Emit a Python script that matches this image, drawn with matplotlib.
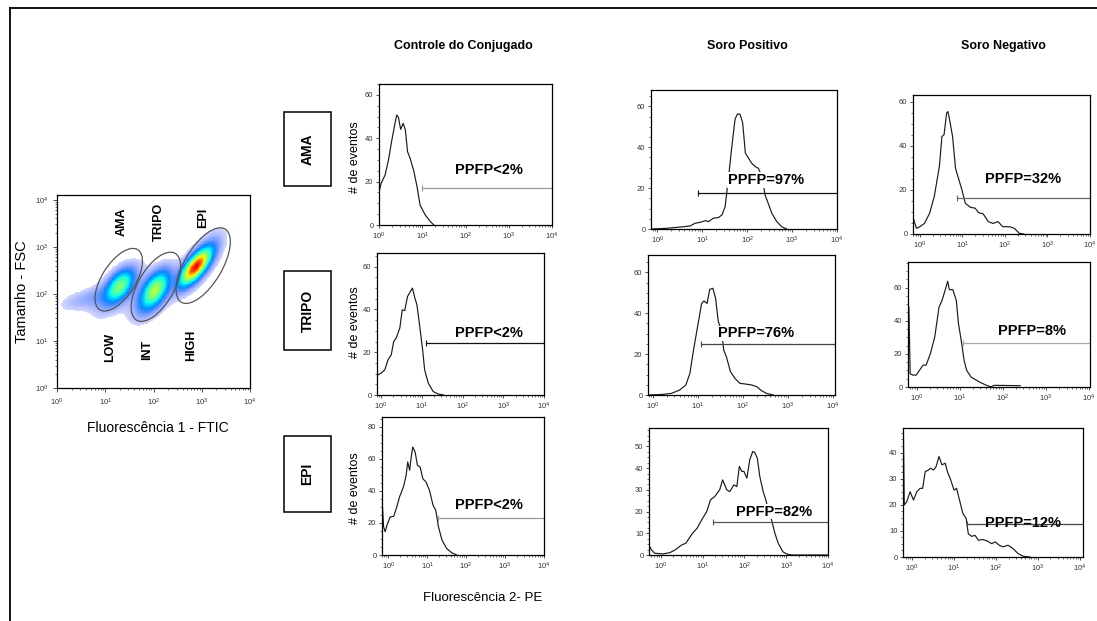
import numpy as np
import matplotlib
matplotlib.use("Agg")
import matplotlib.pyplot as plt
from matplotlib.patches import Ellipse, Rectangle
from matplotlib.lines import Line2D
from matplotlib.ticker import (LogLocator, LogFormatterSciNotation, MultipleLocator,
                               FixedLocator, NullFormatter, FuncFormatter)

# ---------------------------------------------------------------- data
column_titles = ["Controle do Conjugado", "Soro Positivo", "Soro Negativo"]
row_titles = ["AMA", "TRIPO", "EPI"]

# FSC x FL1 populations (log10 units): dense cores plus faint halos
cluster_names = ["AMA", "TRIPO", "EPI", "AMA halo", "TRIPO halo", "EPI halo", "left tail"]
cluster_fl1_log = [1.30, 2.03, 2.88, 1.25, 2.00, 2.95, 0.65]
cluster_fsc_log = [2.17, 2.08, 2.58, 2.10, 2.02, 2.65, 1.90]
cluster_sd_major = [0.22, 0.24, 0.26, 0.40, 0.40, 0.45, 0.40]
cluster_sd_minor = [0.12, 0.12, 0.10, 0.20, 0.20, 0.17, 0.14]
cluster_angle = [55, 60, 52, 50, 55, 55, 15]
cluster_weight = [0.40, 0.48, 1.00, 0.10, 0.12, 0.12, 0.05]

gate_names = ["AMA", "TRIPO", "EPI"]
gate_center_fl1 = [1.28, 2.05, 3.03]
gate_center_fsc = [2.30, 2.15, 2.60]
gate_major = [1.50, 1.63, 1.80]
gate_minor = [0.70, 0.75, 0.78]
gate_angle = [58.6, 61.0, 60.0]
intensity_names = ["LOW", "INT", "HIGH"]

# Histograms: log10 of FL2 intensity and number of events
ctrl_ama_log = [0.00, 0.05, 0.14, 0.22, 0.29, 0.37, 0.41, 0.45, 0.50, 0.56, 0.61, 0.66, 0.72,
                0.80, 0.88, 0.95, 1.07, 1.19, 1.27]
ctrl_ama_count = [15.3, 19.2, 23.0, 30.0, 38.4, 46.9, 50.7, 49.6, 44.1, 46.9, 43.8, 33.8, 30.7,
                  25.3, 17.6, 9.2, 4.6, 1.5, 0.0]

pos_ama_log = [-0.14, 0.18, 0.58, 0.73, 0.84, 0.96, 1.07, 1.14, 1.25, 1.36, 1.44, 1.51, 1.58,
               1.66, 1.73, 1.78, 1.84, 1.90, 1.96, 2.03, 2.10, 2.18, 2.25, 2.33, 2.40, 2.47,
               2.55, 2.66, 2.77, 2.88]
pos_ama_count = [0.0, 0.3, 1.1, 1.5, 2.8, 3.3, 4.1, 3.6, 5.3, 5.6, 6.9, 11.0, 24.1, 40.5, 53.6,
                 56.2, 56.2, 52.0, 37.2, 34.7, 32.2, 30.5, 29.7, 25.6, 16.6, 12.5, 7.6, 3.6,
                 1.1, 0.0]

neg_ama_log = [-0.17, -0.08, 0.00, 0.11, 0.23, 0.34, 0.46, 0.52, 0.57, 0.63, 0.66, 0.70, 0.77,
               0.84, 0.92, 0.99, 1.07, 1.19, 1.30, 1.38, 1.49, 1.61, 1.72, 1.84, 1.95, 2.11,
               2.22, 2.34, 2.45]
neg_ama_count = [8.2, 2.6, 3.3, 4.8, 9.4, 17.0, 30.6, 44.2, 45.0, 54.8, 55.5, 51.8, 44.2, 29.7,
                 24.5, 20.0, 13.9, 12.1, 11.7, 9.7, 9.1, 5.6, 4.8, 5.6, 3.3, 3.3, 2.6, 0.3, 0.0]

ctrl_tripo_log = [-0.08, 0.00, 0.09, 0.17, 0.25, 0.31, 0.37, 0.46, 0.52, 0.58, 0.65, 0.72, 0.77,
                  0.83, 0.88, 0.95, 1.02, 1.07, 1.16, 1.28, 1.40, 1.53]
ctrl_tripo_count = [9.4, 10.2, 11.7, 16.4, 18.8, 25.0, 26.6, 31.3, 39.8, 39.5, 46.1, 48.4, 50.0,
                    45.3, 42.2, 32.0, 21.1, 11.7, 5.5, 1.6, 0.5, 0.0]

pos_tripo_log = [-0.11, 0.22, 0.41, 0.59, 0.73, 0.82, 0.90, 0.99, 1.08, 1.13, 1.20, 1.26, 1.33,
                 1.39, 1.45, 1.52, 1.57, 1.63, 1.72, 1.82, 1.93, 2.04, 2.19, 2.30, 2.41, 2.52,
                 2.67]
pos_tripo_count = [0.0, 0.3, 0.8, 2.4, 4.9, 10.6, 22.0, 33.4, 44.8, 46.0, 44.8, 51.7, 52.2, 47.3,
                   35.9, 31.8, 22.0, 18.7, 11.4, 8.1, 5.7, 5.4, 4.9, 4.1, 2.1, 0.8, 0.0]

neg_tripo_log = [-0.18, -0.16, -0.15, -0.09, -0.01, 0.07, 0.15, 0.22, 0.32, 0.42, 0.52, 0.59,
                 0.67, 0.72, 0.76, 0.84, 0.92, 0.97, 1.04, 1.10, 1.16, 1.26, 1.45, 1.61, 1.72,
                 1.80, 2.40]
neg_tripo_count = [48.3, 22.2, 8.0, 7.2, 7.2, 10.2, 13.2, 13.2, 20.2, 30.2, 48.3, 52.3, 59.3,
                   63.9, 58.8, 58.8, 52.3, 38.3, 27.2, 16.1, 10.1, 6.1, 3.1, 1.1, 0.1, 1.0, 0.8]

ctrl_epi_log = [-0.15, -0.12, -0.08, -0.02, 0.05, 0.14, 0.22, 0.29, 0.39, 0.46, 0.50, 0.55, 0.59,
                0.63, 0.69, 0.75, 0.82, 0.89, 0.97, 1.06, 1.15, 1.22, 1.29, 1.38, 1.50, 1.63,
                1.76]
ctrl_epi_count = [31.2, 17.6, 14.5, 19.5, 23.7, 24.1, 30.0, 36.2, 42.4, 49.6, 58.0, 52.8, 61.1,
                  67.3, 64.2, 55.9, 54.8, 47.5, 45.5, 40.3, 31.0, 27.9, 17.6, 9.3, 4.1, 1.4, 0.0]

pos_epi_log = [-0.28, -0.22, -0.14, 0.06, 0.22, 0.34, 0.50, 0.60, 0.68, 0.76, 0.87, 0.98, 1.10,
               1.19, 1.29, 1.41, 1.48, 1.58, 1.65, 1.75, 1.82, 1.88, 1.94, 1.99, 2.06, 2.13,
               2.20, 2.25, 2.31, 2.37, 2.45, 2.51, 2.60, 2.65, 2.73, 2.81, 2.92, 3.01, 3.13,
               4.00]
pos_epi_count = [4.6, 2.3, 0.8, 0.5, 1.1, 2.3, 4.6, 5.4, 7.7, 10.0, 12.3, 16.2, 20.0, 25.4, 26.9,
                 30.0, 34.6, 30.0, 29.2, 32.3, 31.5, 40.8, 38.5, 38.5, 35.4, 43.9, 47.7, 47.2,
                 44.6, 36.1, 29.2, 25.6, 19.2, 16.2, 10.0, 5.4, 1.5, 0.5, 0.0, 0.0]

neg_epi_log = [-0.21, -0.19, -0.13, -0.05, 0.03, 0.11, 0.19, 0.25, 0.31, 0.39, 0.44, 0.51, 0.57,
               0.64, 0.71, 0.79, 0.84, 0.92, 1.00, 1.06, 1.13, 1.21, 1.29, 1.34, 1.42, 1.50,
               1.58, 1.68, 1.78, 1.90, 1.98, 2.08, 2.17, 2.29, 2.41, 2.53, 2.65, 2.81]
neg_epi_count = [48.0, 19.9, 21.2, 25.0, 21.8, 25.0, 26.3, 26.3, 32.7, 33.3, 34.0, 33.3, 34.6,
                 38.5, 35.3, 35.9, 32.7, 29.5, 25.6, 26.3, 21.8, 16.7, 14.7, 8.9, 7.9, 8.3, 6.4,
                 6.7, 6.2, 5.1, 5.8, 4.5, 3.9, 4.5, 3.2, 1.3, 0.3, 0.0]

# positive-fluorescence gates (row-major: AMA, TRIPO, EPI x control, positive, negative)
ppfp_labels = ["PPFP<2%", "PPFP=97%", "PPFP=32%",
               "PPFP<2%", "PPFP=76%", "PPFP=8%",
               "PPFP<2%", "PPFP=82%", "PPFP=12%"]
gate_start_log = [1.00, 0.90, 0.88, 1.10, 1.07, 1.07, 1.29, 1.25, 1.30]
gate_end_log = [4.00, 4.00, 4.05, 4.00, 4.04, 4.15, 4.00, 4.00, 4.08]
gate_level = [17.0, 17.7, 16.5, 24.2, 24.8, 26.8, 22.9, 15.1, 12.5]

histograms = [
    (ctrl_ama_log, ctrl_ama_count), (pos_ama_log, pos_ama_count), (neg_ama_log, neg_ama_count),
    (ctrl_tripo_log, ctrl_tripo_count), (pos_tripo_log, pos_tripo_count),
    (neg_tripo_log, neg_tripo_count),
    (ctrl_epi_log, ctrl_epi_count), (pos_epi_log, pos_epi_count), (neg_epi_log, neg_epi_count),
]

# ---------------------------------------------------------------- figure
W, H = 1097, 621
plt.rcParams['font.family'] = ['Liberation Sans', 'DejaVu Sans']
plt.rcParams['mathtext.fontset'] = 'custom'
plt.rcParams['mathtext.rm'] = 'Liberation Sans'
plt.rcParams['mathtext.it'] = 'Liberation Sans:italic'
plt.rcParams['mathtext.bf'] = 'Liberation Sans:bold'

fig = plt.figure(figsize=(W / 100, H / 100), dpi=100)
fig.patch.set_facecolor('white')


def ax_px(l, t, r, b):
    return fig.add_axes([l / W, 1 - b / H, (r - l) / W, (b - t) / H])


def ftext(x, y, s, **kw):
    return fig.text(x / W, 1 - y / H, s, ha='center', va='center', **kw)


# outer frame
fig.add_artist(Line2D([10 / W, 10 / W], [0, 1 - 8 / H], transform=fig.transFigure,
                      color='black', lw=1.3))
fig.add_artist(Line2D([10 / W, 1.0], [1 - 8 / H, 1 - 8 / H], transform=fig.transFigure,
                      color='black', lw=1.3))

TICK_KW = dict(labelsize=5.5, labelcolor='#333333', colors='#333333', direction='out')

# ---------------------------------------------------------------- FSC x FL1 dot plot
axs = ax_px(57, 195, 250, 388)
gx = np.linspace(0, 4, 240)
gy = np.linspace(0, 4.1, 246)
GX, GY = np.meshgrid(gx, gy)
dens = np.zeros_like(GX)
for cx, cy, sa, sb, ang, wgt in zip(cluster_fl1_log, cluster_fsc_log, cluster_sd_major,
                                    cluster_sd_minor, cluster_angle, cluster_weight):
    t = np.deg2rad(ang)
    u = (GX - cx) * np.cos(t) + (GY - cy) * np.sin(t)
    v = -(GX - cx) * np.sin(t) + (GY - cy) * np.cos(t)
    dens += wgt * np.exp(-0.5 * ((u / sa) ** 2 + (v / sb) ** 2))
norm = dens / dens.max()
rgba = plt.get_cmap('jet')(0.13 + 0.78 * norm ** 0.9)
rgba[..., 3] = np.clip(norm / 0.14, 0, 1) ** 0.8
rgba[norm < 0.015, 3] = 0
axs.imshow(rgba, origin='lower', extent=[0, 4, 0, 4.1], aspect='auto',
           interpolation='nearest', zorder=1)
for cx, cy, mj, mn, ang in zip(gate_center_fl1, gate_center_fsc, gate_major, gate_minor,
                               gate_angle):
    axs.add_patch(Ellipse((cx, cy), mj, mn, angle=ang, fill=False, ec='#555555',
                          lw=0.9, zorder=3))
axs.set_xlim(0, 4)
axs.set_ylim(0, 4.1)
decades = [0, 1, 2, 3, 4]
minor_pos = [d + np.log10(k) for d in range(4) for k in range(2, 10)]
for axis in (axs.xaxis, axs.yaxis):
    axis.set_major_locator(FixedLocator(decades))
    axis.set_minor_locator(FixedLocator(minor_pos))
    axis.set_major_formatter(FuncFormatter(lambda v, p: r'$10^{%d}$' % round(v)))
    axis.set_minor_formatter(NullFormatter())
axs.tick_params(which='major', length=3, width=0.6, **TICK_KW)
axs.tick_params(which='minor', length=1.5, width=0.5, colors='#333333', direction='out')
for sp in axs.spines.values():
    sp.set_linewidth(0.9)

# labels inside the dot plot (pixel positions)
for (x, y), s in zip([(122, 222), (159, 222), (203, 218)], gate_names):
    ftext(x, y, s, rotation=90, fontsize=9, fontweight='bold')
for (x, y), s in zip([(110, 347), (147, 350), (191, 345)], intensity_names):
    ftext(x, y, s, rotation=90, fontsize=9, fontweight='bold')
ftext(22, 292, "Tamanho - FSC", rotation=90, fontsize=10.5)
ftext(158, 428, "Fluorescência 1 - FTIC", fontsize=10)

# ---------------------------------------------------------------- histograms
# box (l, t, r, b) in px, x range (log10), y max, y major step, label anchor (axes fraction)
layout = [
    ((379, 84, 552, 225), (0.00, 4.00), 65.0, 20, (0.636, 0.39), '#9a9a9a', False),
    ((651, 90, 837, 229), (-0.14, 4.00), 68.0, 20, (0.618, 0.353), '#111111', True),
    ((913, 95, 1090, 234), (-0.16, 4.00), 63.0, 20, (0.620, 0.396), '#666666', False),
    ((377, 253, 544, 395), (-0.10, 4.00), 66.4, 20, (0.672, 0.435), '#111111', False),
    ((648, 255, 835, 395), (-0.11, 4.04), 68.5, 20, (0.578, 0.44), '#444444', True),
    ((908, 262, 1090, 387), (-0.20, 4.02), 75.5, 20, (0.680, 0.45), '#aaaaaa', False),
    ((382, 417, 544, 555), (-0.16, 4.00), 86.0, 20, (0.662, 0.362), '#9a9a9a', False),
    ((649, 428, 828, 555), (-0.28, 4.00), 58.5, 10, (0.700, 0.341), '#555555', True),
    ((903, 428, 1083, 557), (-0.22, 4.08), 49.4, 10, (0.668, 0.266), '#444444', False),
]

for i, ((box, xr, ymax, ystep, lab, gcol, occlude), (lx, cnt)) in enumerate(
        zip(layout, histograms)):
    ax = ax_px(*box)
    ax.set_xscale('log')
    ax.plot(10 ** np.asarray(lx), cnt, color='#1a1a1a', lw=0.85, zorder=2)
    g0, g1 = 10 ** gate_start_log[i], 10 ** min(gate_end_log[i], xr[1] - 0.005)
    ax.plot([g0, g1], [gate_level[i]] * 2, color=gcol, lw=0.9, zorder=2)
    ax.plot([g0, g1], [gate_level[i]] * 2, ls='none', marker='|', ms=4, mew=0.8,
            color=gcol, zorder=2)
    bbox = dict(boxstyle='square,pad=0.05', fc='white', ec='none') if occlude else None
    ax.text(lab[0], lab[1], ppfp_labels[i], transform=ax.transAxes, ha='center',
            va='center', fontsize=10.5, fontweight='bold', zorder=4, bbox=bbox)
    ax.set_xlim(10 ** xr[0], 10 ** xr[1])
    ax.set_ylim(0, ymax)
    ax.xaxis.set_major_locator(LogLocator(base=10, numticks=10))
    ax.xaxis.set_minor_locator(LogLocator(base=10, subs=np.arange(2, 10), numticks=50))
    ax.xaxis.set_major_formatter(LogFormatterSciNotation())
    ax.xaxis.set_minor_formatter(NullFormatter())
    ax.yaxis.set_major_locator(MultipleLocator(ystep))
    ax.yaxis.set_minor_locator(MultipleLocator(ystep / 4))
    ax.tick_params(which='major', length=2.5, width=0.6, pad=1.5, **TICK_KW)
    ax.tick_params(which='minor', length=1.3, width=0.5, colors='#333333', direction='out')
    for sp in ax.spines.values():
        sp.set_linewidth(0.9)

# column headers
for x, s in zip([463, 747, 1003], column_titles):
    ftext(x, 46, s, fontsize=9, fontweight='bold',
          family=['Liberation Sans Narrow', 'Liberation Sans'])

# row boxes
for (l, t, r, b), s in zip([(284, 112, 331, 186), (284, 271, 331, 350), (284, 436, 331, 512)],
                           row_titles):
    fig.add_artist(Rectangle((l / W, 1 - b / H), (r - l) / W, (b - t) / H,
                             transform=fig.transFigure, fill=False, ec='black', lw=1.1))
    ftext((l + r) / 2, (t + b) / 2, s, rotation=90, fontsize=10, fontweight='bold')

for y in [157, 322, 488]:
    ftext(355, y, "# de eventos", rotation=90, fontsize=9)
ftext(483, 598, "Fluorescência 2- PE", fontsize=9.5)

fig.savefig("out.png", dpi=100, facecolor='white')
